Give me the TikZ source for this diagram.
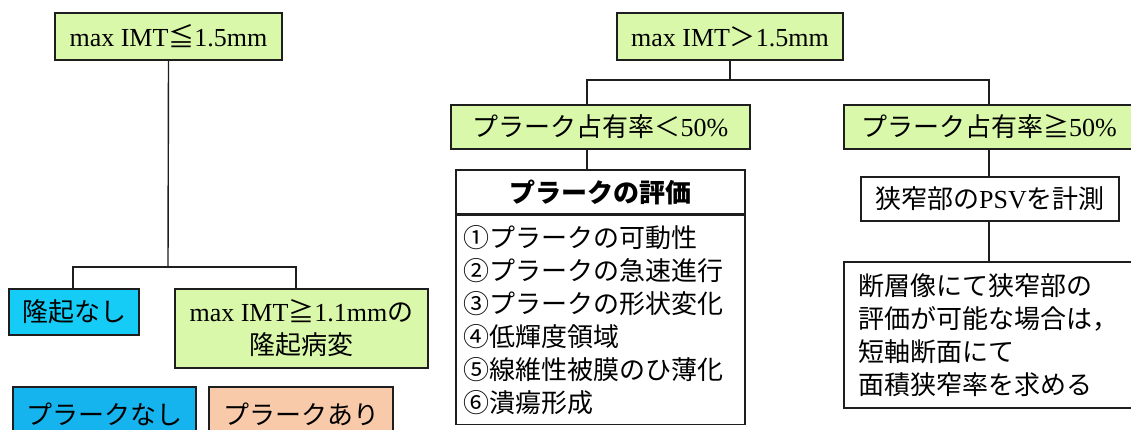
\documentclass[tikz,border=0pt]{standalone}
\usepackage{fontspec}
\setmainfont{Liberation Serif}
\newfontfamily\jp{Noto Sans CJK JP}
\newcommand\lat[1]{{\rmfamily #1}}
\definecolor{boxgreen}{RGB}{218,248,170}
\definecolor{boxcyan}{RGB}{20,204,246}
\definecolor{boxblue}{RGB}{22,180,238}
\definecolor{boxpeach}{RGB}{249,202,170}
\definecolor{linec}{RGB}{30,30,30}
\tikzset{
  box/.style={draw=linec, line width=1.4pt, inner sep=0pt, align=center,
    font=\jp\fontsize{26}{33}\selectfont},
  conn/.style={draw=linec, line width=1.4pt}
}
\begin{document}
\begin{tikzpicture}[x=1pt,y=-1pt]
\useasboundingbox (0,0) rectangle (1131,429);
\fill[white] (0,0) rectangle (1131,429);
\clip (0,0) rectangle (1131,429);
% left branch
\node[box, fill=boxgreen, minimum width=227pt, minimum height=47pt] (A) at (168.5,36.5) {\lat{max IMT}≦\lat{1.5mm}};
\node[box, fill=boxcyan, minimum width=130pt, minimum height=46pt] (B) at (74,312) {隆起なし};
\node[box, fill=boxgreen, minimum width=253pt, minimum height=79pt] (C) at (301.5,328.5) {\lat{max IMT}≧\lat{1.1mm}の\\隆起病変};
\node[box, fill=boxblue, minimum width=183pt, minimum height=54pt] (D) at (104.5,414) {プラークなし};
\node[box, fill=boxpeach, minimum width=184pt, minimum height=54pt] (E) at (301,414) {プラークあり};
\coordinate (jL) at (168,267);
\coordinate (bL) at (73,267);
\coordinate (cL) at (296,267);
\draw[conn] (A.south) -- (jL);
\draw[conn] (bL |- B.north) -- (bL) -- (cL) -- (cL |- C.north);
% right branch
\node[box, fill=boxgreen, minimum width=226pt, minimum height=47pt] (F) at (730,36.5) {\lat{max IMT}＞\lat{1.5mm}};
\node[box, fill=boxgreen, minimum width=299pt, minimum height=44pt] (G) at (600.5,127) {プラーク占有率＜\lat{50\%}};
\node[box, fill=boxgreen, minimum width=290pt, minimum height=44pt] (H) at (989,127) {プラーク占有率≧\lat{50\%}};
\coordinate (jR) at (730,80);
\coordinate (gR) at (587,80);
\coordinate (hR) at (989,80);
\draw[conn] (F.south) -- (jR);
\draw[conn] (gR |- G.north) -- (gR) -- (hR) -- (H.north);
\node[box, fill=white, minimum width=289pt, minimum height=44pt] (I1) at (600.5,192) {\bfseries プラークの評価};
\node[box, fill=white, text width=275pt, inner xsep=7pt, minimum height=209pt, align=left, anchor=north] (I2) at (I1.south) {①プラークの可動性\\②プラークの急速進行\\③プラークの形状変化\\④低輝度領域\\⑤線維性被膜のひ薄化\\⑥潰瘍形成};
\draw[conn] (gR |- G.south) -- (gR |- I1.north);
\node[box, fill=white, minimum width=258pt, minimum height=44pt] (J) at (990,199) {狭窄部の\lat{PSV}を計測};
\node[box, fill=white, text width=262pt, inner xsep=14pt, minimum height=146pt, align=left] (K) at (989,335) {断層像にて狭窄部の\\評価が可能な場合は，\\短軸断面にて\\面積狭窄率を求める};
\draw[conn] (H.south) -- (H.south |- J.north);
\draw[conn] (H.south |- J.south) -- (K.north);
\end{tikzpicture}
\end{document}
